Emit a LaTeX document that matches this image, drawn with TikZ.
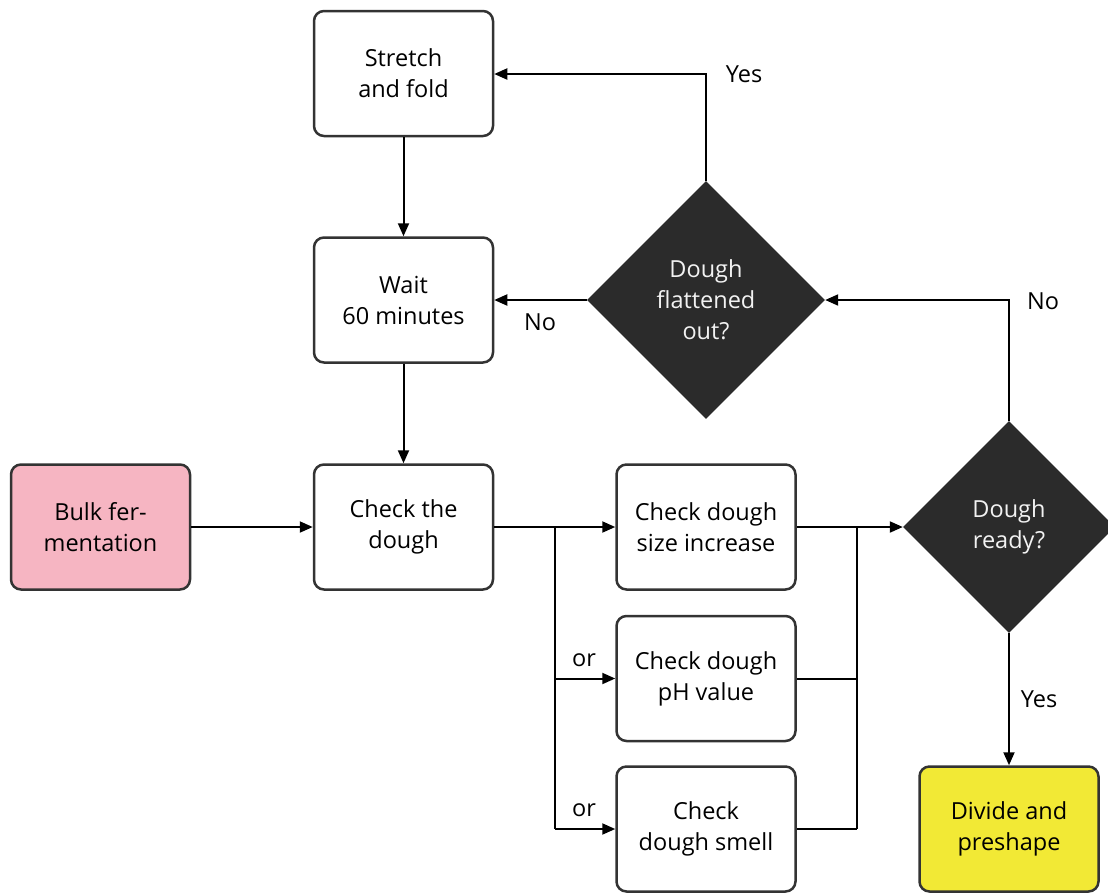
\documentclass[tikz,border=0pt]{standalone}
\usepackage{fontspec}
\setmainfont{Open Sans}
\usetikzlibrary{shapes.geometric,arrows.meta}
\definecolor{boxline}{HTML}{333333}
\definecolor{dia}{HTML}{2B2B2B}
\definecolor{pinkfill}{HTML}{F6B5C2}
\definecolor{yellowfill}{HTML}{F2E935}
\definecolor{diatext}{HTML}{F2F2F2}
\tikzset{
  stepbox/.style={draw=boxline, line width=2.5pt, rounded corners=10pt, fill=white,
    minimum width=179pt, minimum height=125pt, align=center, inner sep=0pt,
    font=\fontsize{23.5}{31}\selectfont},
  decision/.style={diamond, aspect=1, fill=dia, draw=none, minimum width=238pt, minimum height=238pt,
    inner sep=0pt, align=center, text=diatext, font=\fontsize{23.5}{31}\selectfont},
  conn/.style={line width=2pt, draw=black, -{Triangle[length=13pt,width=11pt]}},
  plain/.style={line width=2pt, draw=black},
  lbl/.style={font=\fontsize{23.5}{28}\selectfont, inner sep=0pt}
}
\begin{document}
\begin{tikzpicture}[x=1pt,y=-1pt]
\useasboundingbox (0,0) rectangle (1108,892);
% boxes
\node[stepbox] (stretch) at (403.5,73.5) {Stretch\\and fold};
\node[stepbox] (wait) at (403.5,300) {Wait\\60 minutes};
\node[stepbox] (check) at (403.5,527) {Check the\\dough};
\node[stepbox, fill=pinkfill] (bulk) at (100.5,527) {Bulk fer-\\mentation};
\node[stepbox] (size) at (706,527) {Check dough\\size increase};
\node[stepbox] (ph) at (706,678.5) {Check dough\\pH value};
\node[stepbox] (smell) at (706,829) {Check\\dough smell};
\node[stepbox, fill=yellowfill] (divide) at (1009,829) {Divide and\\preshape};
% diamonds
\node[decision] (flat) at (706,300) {Dough\\flattened\\out?};
\node[decision, minimum width=212pt, minimum height=212pt] (ready) at (1009,527) {Dough\\ready?};
% coordinates
\coordinate (splitTop) at (555,527);
\coordinate (splitPh) at (555,678.5);
\coordinate (splitSm) at (555,829);
\coordinate (joinTop) at (857,527);
\coordinate (joinPh) at (857,678.5);
\coordinate (joinSm) at (857,829);
\coordinate (readyUp) at (1009,300);
\coordinate (flatUp) at (706,74);
% connectors
\draw[conn] (stretch.south) -- (wait.north);
\draw[conn] (wait.south) -- (check.north);
\draw[conn] (bulk.east) -- (check.west);
\draw[plain] (check.east) -- (splitTop);
\draw[conn] (splitTop) -- (size.west);
\draw[plain] (splitTop) -- (splitSm);
\draw[conn] (splitPh) -- (ph.west);
\draw[conn] (splitSm) -- (smell.west);
\draw[plain] (ph.east) -- (joinPh);
\draw[plain] (smell.east) -- (joinSm);
\draw[plain] (joinTop) -- (joinSm);
\draw[conn] (size.east) -- (ready.west);
\draw[conn] (ready.north) -- (readyUp) -- (flat.east);
\draw[conn] (ready.south) -- (divide.north);
\draw[conn] (flat.north) -- (flatUp) -- (stretch.east |- flatUp);
\draw[conn] (flat.west) -- (wait.east);
% labels
\node[lbl] (l1) at (744,74) {Yes};
\node[lbl] (l2) at (540,322) {No};
\node[lbl] (l3) at (1043,301) {No};
\node[lbl] (l4) at (1039,699) {Yes};
\node[lbl] (l5) at (584,660) {or};
\node[lbl] (l6) at (584,810) {or};
\end{tikzpicture}
\end{document}
